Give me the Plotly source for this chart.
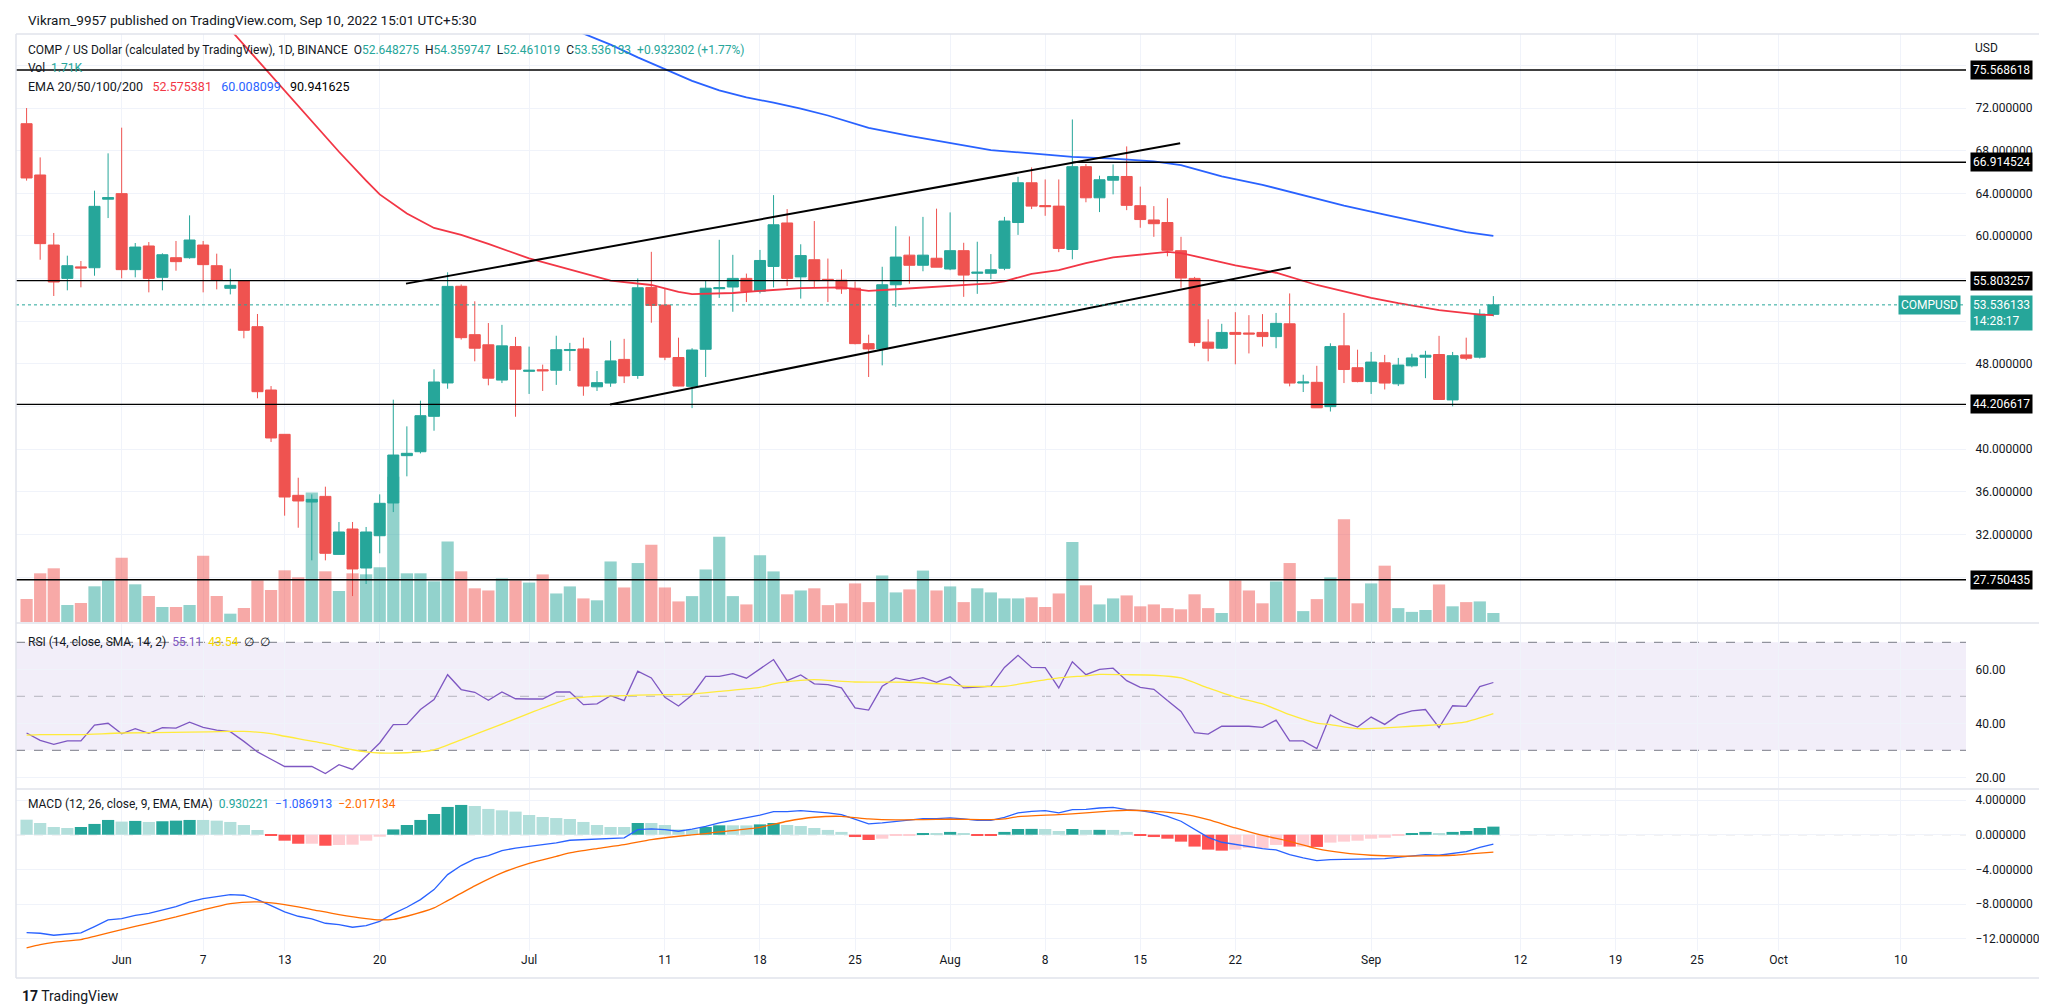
import pandas as pd
import plotly.graph_objects as go

# ---------------- data ----------------
dates = pd.date_range("2022-05-25", periods=109, freq="D")

open_ = [70.53, 65.72, 59.15, 56.02, 57.10, 57.02, 63.45, 63.97, 56.84, 59.06,
         56.12, 57.96, 57.96, 59.15, 57.21, 55.09, 55.80, 51.49, 45.55, 41.39,
         35.67, 35.04, 35.57, 30.13, 32.51, 28.85, 31.88, 34.95, 39.39, 39.76,
         43.08, 46.21, 55.28, 50.74, 49.79, 46.48, 49.62, 47.30, 47.45, 47.40,
         49.25, 49.40, 45.85, 46.20, 48.42, 46.91, 55.17, 53.52, 48.60, 45.89,
         49.37, 55.05, 55.21, 56.02, 54.82, 57.14, 61.22, 56.16, 57.77, 55.93,
         55.85, 55.10, 49.90, 49.40, 55.42, 58.20, 57.25, 57.91, 56.90, 58.62,
         56.50, 56.50, 56.97, 61.26, 64.99, 62.85, 62.80, 58.73, 66.50, 63.58,
         65.23, 65.58, 62.84, 61.50, 61.26, 58.62, 56.02, 50.04, 49.47, 50.95,
         50.90, 50.95, 50.56, 51.76, 46.20, 46.27, 43.99, 49.69, 47.64, 46.34,
         48.10, 46.13, 47.82, 48.63, 48.88, 44.62, 48.84, 48.63, 52.648275]
high = [72.00, 67.37, 60.28, 58.15, 57.65, 64.25, 67.75, 70.16, 59.34, 59.43,
        58.37, 59.53, 61.93, 59.53, 58.34, 56.93, 55.80, 52.68, 45.92, 41.39,
        37.32, 35.76, 36.48, 33.17, 33.17, 32.70, 35.76, 44.64, 42.14, 44.55,
        47.49, 56.59, 55.45, 53.87, 51.83, 51.66, 50.53, 49.62, 47.93, 50.64,
        49.97, 50.46, 47.33, 50.18, 50.35, 56.02, 58.51, 55.03, 50.46, 49.47,
        55.81, 59.64, 58.23, 56.47, 58.69, 63.83, 62.52, 59.22, 61.40, 57.88,
        56.86, 55.73, 50.74, 57.11, 60.91, 59.96, 61.79, 62.56, 62.21, 59.36,
        59.46, 58.30, 61.79, 65.55, 66.43, 65.30, 65.30, 70.93, 66.75, 65.65,
        66.71, 68.40, 64.63, 62.80, 63.54, 59.92, 56.16, 52.18, 51.76, 52.85,
        52.57, 52.67, 52.78, 54.61, 46.98, 47.82, 49.93, 52.78, 49.33, 49.12,
        48.84, 48.56, 48.95, 49.23, 50.63, 49.12, 50.46, 53.13, 54.359747]
low = [65.19, 57.77, 54.37, 54.90, 55.18, 56.27, 61.68, 56.02, 56.12, 54.71,
       54.90, 56.74, 57.87, 54.71, 54.99, 54.52, 50.40, 44.77, 40.67, 33.76,
       32.63, 29.57, 29.57, 30.13, 26.22, 27.35, 30.23, 34.10, 37.45, 39.60,
       41.73, 45.67, 50.28, 48.24, 45.99, 46.20, 43.04, 45.18, 45.46, 46.03,
       47.33, 45.01, 45.46, 45.85, 46.20, 46.60, 51.86, 48.35, 45.90, 43.85,
       46.77, 54.19, 52.89, 53.80, 54.61, 55.17, 55.31, 54.12, 55.17, 53.80,
       54.57, 49.83, 46.77, 47.86, 53.34, 55.52, 56.69, 57.07, 56.79, 54.29,
       54.57, 55.95, 56.79, 60.10, 62.52, 61.89, 58.48, 57.81, 63.16, 62.24,
       63.90, 62.42, 60.77, 59.92, 58.09, 55.14, 49.65, 48.24, 49.40, 47.96,
       48.98, 49.62, 49.47, 45.89, 45.36, 43.88, 43.53, 46.20, 46.27, 45.18,
       45.60, 45.92, 47.68, 46.66, 44.66, 44.02, 48.35, 48.50, 52.461019]
close = [65.44, 59.28, 55.68, 57.21, 57.00, 62.78, 63.60, 56.84, 58.96, 56.02,
         58.24, 57.59, 59.62, 57.31, 55.84, 55.37, 51.15, 45.39, 41.05, 35.51,
         35.14, 35.29, 30.23, 32.23, 28.76, 32.23, 34.92, 39.45, 39.61, 43.14,
         46.30, 55.27, 50.46, 49.47, 46.66, 49.69, 47.50, 47.40, 47.35, 49.33,
         49.35, 45.92, 46.24, 48.28, 46.87, 55.14, 53.48, 48.63, 45.92, 49.30,
         55.10, 55.15, 56.02, 54.82, 57.70, 61.05, 56.02, 58.16, 55.81, 55.85,
         55.03, 49.90, 49.40, 55.42, 58.02, 57.25, 58.20, 57.07, 58.62, 56.33,
         56.60, 56.83, 61.40, 64.99, 62.80, 62.75, 58.83, 66.50, 63.58, 65.27,
         65.58, 62.87, 61.54, 61.15, 58.65, 56.05, 50.00, 49.47, 50.95, 50.77,
         50.80, 50.56, 51.80, 46.20, 46.30, 43.88, 49.62, 47.47, 46.34, 48.17,
         46.20, 47.89, 48.56, 48.81, 44.66, 48.77, 48.53, 52.67, 53.536133]
volume_k = [4.37, 9.25, 10.2, 3.23, 3.61, 6.78, 7.92, 12.2, 7.16, 4.94,
            2.85, 2.85, 3.23, 12.6, 4.94, 1.58, 2.66, 7.92, 6.08, 9.82,
            8.49, 24.6, 9.63, 5.89, 9.25, 9.06, 10.4, 27.6, 9.25, 9.25,
            7.73, 15.3, 9.63, 6.40, 5.99, 8.27, 7.90, 7.49, 9.04, 5.42,
            6.76, 4.48, 4.12, 11.5, 6.56, 11.2, 14.7, 6.56, 3.91, 4.92,
            9.98, 16.2, 4.92, 3.34, 12.7, 9.61, 5.26, 5.99, 6.40, 3.21,
            3.55, 7.33, 3.78, 8.84, 5.62, 6.19, 9.77, 5.99, 6.76, 3.78,
            6.40, 5.62, 4.48, 4.48, 4.69, 2.85, 5.42, 15.2, 6.97, 3.34,
            4.48, 5.05, 2.98, 3.34, 2.64, 2.41, 5.26, 2.64, 1.71, 7.90,
            5.99, 3.55, 7.70, 11.2, 2.07, 4.35, 8.47, 19.5, 3.55, 7.33,
            10.7, 2.64, 1.92, 2.28, 7.13, 2.98, 3.78, 3.91, 1.71]

ema20_dates = ["2022-06-09", "2022-06-13", "2022-06-15", "2022-06-17", "2022-06-19", "2022-06-20",
               "2022-06-22", "2022-06-24", "2022-06-26", "2022-06-28", "2022-07-01", "2022-07-04",
               "2022-07-07", "2022-07-10", "2022-07-12", "2022-07-13", "2022-07-16", "2022-07-18",
               "2022-07-21", "2022-07-24", "2022-07-26", "2022-07-28", "2022-08-01", "2022-08-04",
               "2022-08-05", "2022-08-07", "2022-08-09", "2022-08-11", "2022-08-13", "2022-08-16",
               "2022-08-17", "2022-08-18", "2022-08-19", "2022-08-22", "2022-08-25", "2022-08-28",
               "2022-09-01", "2022-09-03", "2022-09-06", "2022-09-09", "2022-09-10"]
ema20_vals = [79.36, 73.6, 70.8, 67.9, 65.2, 63.9, 62.1, 60.75, 60.1, 59.25, 57.9, 56.85,
              55.8, 55.4, 54.75, 54.55, 54.65, 54.85, 55.1, 55.17, 54.85, 55.0, 55.35, 55.55,
              55.75, 56.45, 56.8, 57.45, 58.0, 58.4, 58.5, 58.4, 58.1, 57.25, 56.55, 55.4,
              54.2, 53.7, 53.05, 52.62, 52.575381]

ema50_dates = ["2022-07-04", "2022-07-05", "2022-07-07", "2022-07-09", "2022-07-11", "2022-07-13",
               "2022-07-15", "2022-07-17", "2022-07-19", "2022-07-21", "2022-07-23", "2022-07-25",
               "2022-07-26", "2022-07-29", "2022-08-01", "2022-08-04", "2022-08-07", "2022-08-10",
               "2022-08-13", "2022-08-16", "2022-08-18", "2022-08-21", "2022-08-24", "2022-08-27",
               "2022-08-30", "2022-09-02", "2022-09-05", "2022-09-08", "2022-09-10"]
ema50_vals = [79.5, 79.0, 77.95, 76.75, 75.65, 74.55, 73.65, 73.0, 72.5, 71.95, 71.3, 70.55,
              70.15, 69.4, 68.75, 68.05, 67.75, 67.42, 67.25, 67.0, 66.64, 65.6, 64.8, 63.8,
              62.85, 62.0, 61.15, 60.35, 60.008099]

rsi = [36.4, 33.7, 32.2, 33.5, 33.5, 39.3, 40.0, 36.1, 38.0, 36.3,
       38.4, 38.2, 40.4, 38.5, 37.5, 36.9, 33.3, 29.4, 26.7, 24.0,
       24.0, 24.0, 21.4, 24.7, 22.9, 27.8, 32.7, 39.5, 39.6, 45.1,
       48.8, 58.0, 52.5, 51.5, 48.5, 51.6, 49.1, 49.0, 49.0, 51.6,
       51.6, 46.9, 47.2, 50.2, 48.4, 59.3, 56.8, 49.6, 46.4, 50.5,
       57.4, 57.4, 58.4, 56.7, 60.1, 63.6, 55.8, 57.9, 54.6, 54.3,
       53.1, 45.7, 44.9, 53.7, 56.8, 55.8, 56.9, 55.2, 57.2, 53.1,
       53.4, 53.8, 60.7, 65.2, 60.7, 60.6, 53.1, 62.8, 58.0, 60.0,
       60.4, 55.8, 53.3, 52.6, 48.4, 44.4, 36.5, 36.0, 38.9, 38.9,
       38.9, 38.5, 41.2, 33.5, 33.5, 30.6, 43.1, 40.4, 38.6, 42.3,
       39.6, 43.1, 44.6, 45.1, 38.4, 46.5, 46.3, 53.6, 55.11]
rsi_sma_idx = [0, 1, 4, 7, 12, 15, 16, 18, 19, 22, 24, 25, 26, 28, 30, 32, 35, 37, 39, 40,
               42, 45, 47, 49, 51, 54, 55, 57, 58, 61, 65, 68, 69, 72, 74, 76, 78, 79, 81, 83,
               85, 87, 89, 91, 93, 95, 96, 98, 100, 102, 104, 105, 106, 108]
rsi_sma_vals = [35.6, 35.8, 35.8, 36.4, 36.7, 37.0, 37.0, 36.2, 35.2, 32.5, 30.2, 29.4, 29.0, 29.1,
                30.2, 33.9, 39.7, 43.7, 47.5, 49.1, 50.0, 50.4, 50.6, 50.8, 51.8, 53.3, 54.6, 55.9,
                56.2, 55.3, 55.2, 54.3, 53.8, 53.7, 55.3, 56.8, 57.6, 58.1, 58.0, 57.8, 56.8, 53.1,
                49.7, 47.2, 43.2, 40.1, 39.5, 38.0, 38.3, 38.9, 39.5, 39.9, 40.5, 43.54]

macd = [-11.28, -11.36, -11.59, -11.44, -11.32, -10.59, -9.82, -9.67, -9.29, -9.06,
        -8.67, -8.29, -7.75, -7.37, -7.13, -6.90, -6.98, -7.48, -8.17, -8.90,
        -9.40, -9.71, -10.21, -10.36, -10.67, -10.48, -9.98, -9.09, -8.36, -7.48,
        -6.33, -4.60, -3.56, -2.79, -2.41, -1.83, -1.56, -1.37, -1.18, -0.95,
        -0.64, -0.56, -0.56, -0.45, -0.37, 0.59, 0.67, 0.59, 0.40, 0.65,
        0.95, 1.36, 1.65, 1.95, 2.25, 2.66, 2.66, 2.78, 2.66, 2.51,
        2.32, 1.74, 1.24, 1.36, 1.55, 1.66, 1.86, 1.86, 1.93, 1.82,
        1.66, 1.66, 2.01, 2.51, 2.70, 2.78, 2.51, 2.89, 2.93, 3.08,
        3.16, 2.89, 2.78, 2.51, 2.12, 1.55, 0.59, -0.30, -0.87, -1.14,
        -1.41, -1.60, -1.76, -2.29, -2.68, -2.99, -2.87, -2.87, -2.87, -2.79,
        -2.75, -2.60, -2.45, -2.29, -2.37, -2.14, -1.95, -1.45, -1.086913]
macd_hist = [1.73, 1.35, 0.89, 0.77, 0.89, 1.24, 1.70, 1.51, 1.59, 1.47,
             1.55, 1.62, 1.70, 1.70, 1.62, 1.47, 1.12, 0.54, -0.15, -0.69,
             -1.04, -1.04, -1.27, -1.19, -1.15, -0.69, -0.23, 0.61, 1.12, 1.70,
             2.39, 3.20, 3.43, 3.31, 2.97, 2.81, 2.66, 2.27, 2.04, 1.92,
             1.81, 1.47, 1.12, 0.89, 0.89, 1.35, 1.35, 1.12, 0.61, 0.59,
             0.89, 1.08, 1.08, 1.07, 1.19, 1.35, 1.12, 1.00, 0.77, 0.55,
             0.32, -0.27, -0.61, -0.46, -0.15, -0.04, 0.15, 0.14, 0.32, 0.15,
             -0.04, -0.05, 0.32, 0.66, 0.67, 0.66, 0.43, 0.66, 0.55, 0.56,
             0.55, 0.32, -0.04, -0.27, -0.46, -0.80, -1.37, -1.72, -1.84, -1.72,
             -1.53, -1.53, -1.18, -1.37, -1.37, -1.41, -0.91, -0.80, -0.69, -0.46,
             -0.35, -0.12, 0.15, 0.32, 0.15, 0.32, 0.43, 0.77, 0.930221]
signal_idx = [0, 1, 2, 4, 5, 7, 9, 11, 13, 15, 17, 19, 21, 23, 25, 26, 27, 28, 30, 31,
              33, 35, 37, 39, 40, 42, 44, 46, 48, 50, 51, 54, 56, 58, 60, 62, 64, 66, 68, 71,
              72, 73, 76, 78, 80, 81, 83, 85, 87, 89, 91, 93, 95, 97, 99, 101, 103, 105, 106, 108]
signal_vals = [-13.05, -12.67, -12.40, -12.09, -11.71, -10.94, -10.21, -9.48, -8.67, -7.94,
               -7.75, -8.06, -8.63, -9.21, -9.67, -9.82, -9.75, -9.40, -8.44, -7.6,
               -5.9, -4.4, -3.3, -2.5, -2.1, -1.6, -1.14, -0.56, -0.18, 0.13,
               0.32, 0.85, 1.55, 2.01, 2.12, 1.82, 1.70, 1.74, 1.78, 1.74,
               1.82, 2.09, 2.32, 2.51, 2.75, 2.82, 2.70, 2.43, 1.74, 0.78,
               -0.07, -0.76, -1.60, -2.10, -2.37, -2.48, -2.45, -2.37, -2.25, -2.017134]

levels = [75.568618, 66.914524, 55.803257, 44.206617, 27.750435]
level_starts = [None, "2022-08-10", None, None, None]
upper_channel_x = ["2022-06-21 22:30", "2022-08-17 22:30"]
upper_channel_y = [55.53, 68.70]
lower_channel_x = ["2022-07-06 23:00", "2022-08-26 02:00"]
lower_channel_y = [44.19, 57.05]
last_price = 53.536133

x_tick_vals = ["2022-06-01", "2022-06-07", "2022-06-13", "2022-06-20", "2022-07-01", "2022-07-11",
               "2022-07-18", "2022-07-25", "2022-08-01", "2022-08-08", "2022-08-15", "2022-08-22",
               "2022-09-01", "2022-09-12", "2022-09-19", "2022-09-25", "2022-10-01", "2022-10-10"]
x_tick_text = ["Jun", "7", "13", "20", "Jul", "11", "18", "25", "Aug", "8", "15", "22",
               "Sep", "12", "19", "25", "Oct", "10"]
price_tick_vals = [28, 32, 36, 40, 44, 48, 52, 56, 60, 64, 68, 72, 76]
price_tick_shown = [32, 36, 40, 48, 60, 64, 68, 72]

# ---------------- style ----------------
UP = "#26a69a"
DN = "#ef5350"
UP_V = "rgba(38,166,154,0.5)"
DN_V = "rgba(239,83,80,0.5)"
GRID = "#f0f3fa"
FRAME = "#e0e3eb"
TXT = "#131722"
FONT = "Roboto, Arial, sans-serif"

W, H = 2047, 1006
L, R, T, B = 8, 1958, 26, 943


def px(X):
    return (X - L) / (R - L)


def py(Y):
    return (B - Y) / (B - T)


x_range = ["2022-05-24 05:17", "2022-10-14 19:12"]
MAIN_BOTTOM = 614
# price axis: 75.568618 sits at y=62 px, 10.66 px per unit
price_top = 75.568618 + (62 - T) / 10.66
price_bottom = 75.568618 - (MAIN_BOTTOM - 62) / 10.66
vol_top = (MAIN_BOTTOM - T) * 0.19

fig = go.Figure()

vol_colors = [UP_V if c >= o else DN_V for o, c in zip(open_, close)]
fig.add_trace(go.Bar(x=dates, y=volume_k, marker=dict(color=vol_colors, line=dict(width=0)),
                     xaxis="x", yaxis="y", hoverinfo="skip"))

fig.add_trace(go.Candlestick(
    x=dates, open=open_, high=high, low=low, close=close,
    increasing=dict(line=dict(color=UP, width=1), fillcolor=UP),
    decreasing=dict(line=dict(color=DN, width=1), fillcolor=DN),
    whiskerwidth=0, xaxis="x", yaxis="y2", hoverinfo="skip"))

fig.add_trace(go.Scatter(x=pd.to_datetime(ema20_dates), y=ema20_vals, mode="lines",
                         line=dict(color="#f23645", width=1.8), xaxis="x", yaxis="y2", hoverinfo="skip"))
fig.add_trace(go.Scatter(x=pd.to_datetime(ema50_dates), y=ema50_vals, mode="lines",
                         line=dict(color="#2962ff", width=1.8), xaxis="x", yaxis="y2", hoverinfo="skip"))
fig.add_trace(go.Scatter(x=pd.to_datetime(upper_channel_x), y=upper_channel_y, mode="lines",
                         line=dict(color="#000000", width=2), xaxis="x", yaxis="y2", hoverinfo="skip"))
fig.add_trace(go.Scatter(x=pd.to_datetime(lower_channel_x), y=lower_channel_y, mode="lines",
                         line=dict(color="#000000", width=2), xaxis="x", yaxis="y2", hoverinfo="skip"))

fig.add_trace(go.Scatter(x=dates, y=rsi, mode="lines", line=dict(color="#7e57c2", width=1.3),
                         xaxis="x2", yaxis="y3", hoverinfo="skip"))
fig.add_trace(go.Scatter(x=dates[rsi_sma_idx], y=rsi_sma_vals, mode="lines",
                         line=dict(color="#ffeb3b", width=1.3, shape="spline", smoothing=0.6),
                         xaxis="x2", yaxis="y3", hoverinfo="skip"))

hist_colors = []
for i, h in enumerate(macd_hist):
    prev = macd_hist[i - 1] if i > 0 else None
    if h >= 0:
        hist_colors.append("#26a69a" if (prev is not None and h > prev) else "#b2dfdb")
    else:
        hist_colors.append("#ff5252" if (prev is not None and h < prev) else "#ffcdd2")
fig.add_trace(go.Bar(x=dates, y=macd_hist, marker=dict(color=hist_colors, line=dict(width=0)),
                     xaxis="x3", yaxis="y4", hoverinfo="skip"))
fig.add_trace(go.Scatter(x=dates, y=macd, mode="lines", line=dict(color="#2962ff", width=1.3),
                         xaxis="x3", yaxis="y4", hoverinfo="skip"))
fig.add_trace(go.Scatter(x=dates[signal_idx], y=signal_vals, mode="lines",
                         line=dict(color="#ff6d00", width=1.3, shape="spline", smoothing=0.6),
                         xaxis="x3", yaxis="y4", hoverinfo="skip"))

tickfont = dict(family=FONT, size=12, color=TXT)
xcommon = dict(type="date", range=x_range, tickvals=x_tick_vals, ticktext=x_tick_text,
               showgrid=True, gridcolor=GRID, gridwidth=1, zeroline=False, showline=False,
               ticks="", tickfont=tickfont, fixedrange=True, automargin=False)
ycommon = dict(showgrid=True, gridcolor=GRID, zeroline=False, showline=False, side="right",
               ticks="outside", ticklen=6, tickcolor="rgba(0,0,0,0)", tickfont=tickfont,
               fixedrange=True, automargin=False)

main_dom = [py(MAIN_BOTTOM), 1]
rsi_dom = [py(780), py(616)]
macd_dom = [0, py(782)]

fig.update_layout(
    template="none",
    width=W, height=H,
    margin=dict(l=L, r=W - R, t=T, b=H - B, pad=0),
    paper_bgcolor="white", plot_bgcolor="white",
    showlegend=False, hovermode=False,
    bargap=0.1, boxgap=0.1, boxgroupgap=0.1,
    font=dict(family=FONT, color=TXT),
    xaxis=dict(**xcommon, anchor="y", domain=[0, 1], showticklabels=False,
               rangeslider=dict(visible=False)),
    xaxis2=dict(**xcommon, anchor="y3", domain=[0, 1], matches="x", showticklabels=False),
    xaxis3=dict(**xcommon, anchor="y4", domain=[0, 1], matches="x", showticklabels=True),
    yaxis=dict(domain=main_dom, anchor="x", range=[0, vol_top], visible=False, fixedrange=True,
               automargin=False),
    yaxis2=dict(**ycommon, overlaying="y", anchor="x", range=[price_bottom, price_top],
                tickvals=price_tick_vals,
                ticktext=[f"{v:.6f}" if v in price_tick_shown else "" for v in price_tick_vals]),
    yaxis3=dict(**ycommon, domain=rsi_dom, anchor="x2",
                range=[70 - (780 - 634.3) / 2.7, 70 + (634.3 - 616) / 2.7],
                tickvals=[20, 40, 60], ticktext=["20.00", "40.00", "60.00"]),
    yaxis4=dict(**ycommon, domain=macd_dom, anchor="x3",
                range=[(826.7 - 943) / 8.675, (826.7 - 782) / 8.675],
                tickvals=[4, 0, -4, -8, -12],
                ticktext=["4.000000", "0.000000", "\u22124.000000", "\u22128.000000", "\u221212.000000"]),
)

shapes = []
shapes.append(dict(type="rect", xref="paper", yref="y3", x0=0, x1=1, y0=30, y1=70,
                   fillcolor="rgba(126,87,194,0.1)", line=dict(width=0), layer="below"))
for lv, col in [(70, "#787b86"), (50, "rgba(120,123,134,0.5)"), (30, "#787b86")]:
    shapes.append(dict(type="line", xref="paper", yref="y3", x0=0, x1=1, y0=lv, y1=lv,
                       line=dict(color=col, width=1, dash="dash"), layer="below"))
shapes.append(dict(type="line", xref="paper", yref="y4", x0=0, x1=1, y0=0, y1=0,
                   line=dict(color="rgba(120,123,134,0.5)", width=1, dash="dash"), layer="below"))
for lv, st in zip(levels, level_starts):
    if st is None:
        shapes.append(dict(type="line", xref="paper", yref="y2", x0=0, x1=1, y0=lv, y1=lv,
                           line=dict(color="#000000", width=1.3), layer="above"))
    else:
        shapes.append(dict(type="line", xref="x", yref="y2", x0=st, x1=x_range[1], y0=lv, y1=lv,
                           line=dict(color="#000000", width=1.3), layer="above"))
shapes.append(dict(type="line", xref="paper", yref="y2", x0=0, x1=1, y0=last_price, y1=last_price,
                   line=dict(color=UP, width=1, dash="dot"), layer="above"))
right_edge = px(2037)
for yy in [py(T), py(615), py(781), py(970)]:
    shapes.append(dict(type="line", xref="paper", yref="paper", x0=0, x1=right_edge, y0=yy, y1=yy,
                       line=dict(color=FRAME, width=1.5), layer="above"))
for xx in [0, right_edge]:
    shapes.append(dict(type="line", xref="paper", yref="paper", x0=xx, x1=xx, y0=py(970), y1=py(T),
                       line=dict(color=FRAME, width=1.5), layer="above"))
fig.update_layout(shapes=shapes)

ann = []


def text_ann(X, Y, text, size=12, color=TXT, xanchor="left"):
    ann.append(dict(xref="paper", yref="paper", x=px(X), y=py(Y), text=text, showarrow=False,
                    xanchor=xanchor, yanchor="middle", font=dict(family=FONT, size=size, color=color)))


def span(t, c):
    return f'<span style="color:{c}">{t}</span>'


S = "&nbsp;&nbsp;"
text_ann(18, 12, "Vikram_9957 published on TradingView.com, Sep 10, 2022 15:01 UTC+5:30", size=13.5)
text_ann(18, 42, "COMP / US Dollar (calculated by TradingView), 1D, BINANCE" + S +
         "O" + span("52.648275", UP) + S + "H" + span("54.359747", UP) + S +
         "L" + span("52.461019", UP) + S + "C" + span("53.536133", UP) + S +
         span("+0.932302 (+1.77%)", UP))
text_ann(18, 60, "Vol" + S + span("1.71K", UP))
text_ann(18, 78, "EMA 20/50/100/200" + S + "&nbsp;" + span("52.575381", "#f23645") + S + "&nbsp;" +
         span("60.008099", "#2962ff") + S + "&nbsp;" + span("90.941625", "#000000"), size=12.5)
text_ann(18, 634, "RSI (14, close, SMA, 14, 2)" + S + span("55.11", "#7e57c2") + S +
         span("43.54", "#f5d800") + S + "\u2205" + S + "\u2205")
text_ann(18, 796, "MACD (12, 26, close, 9, EMA, EMA)" + S + span("0.930221", UP) + S +
         span("\u22121.086913", "#2962ff") + S + span("\u22122.017134", "#ff6d00"))
text_ann(1965, 40, "USD", size=12)
text_ann(12, 988, "<b>17</b> TradingView", size=14, color="#131722")

for lv in levels:
    ann.append(dict(xref="paper", yref="y2", x=px(1962), y=lv, text=f"{lv:.6f}", showarrow=False,
                    xanchor="left", yanchor="middle", bgcolor="#000000", borderpad=2,
                    font=dict(family=FONT, size=12, color="white")))
ann.append(dict(xref="paper", yref="y2", x=px(1962), y=last_price,
                text=f"{last_price:.6f}<br>14:28:17", showarrow=False, align="left",
                xanchor="left", yanchor="top", yshift=10, bgcolor=UP, borderpad=2,
                font=dict(family=FONT, size=12, color="white")))
ann.append(dict(xref="paper", yref="y2", x=px(1953), y=last_price, text="COMPUSD", showarrow=False,
                xanchor="right", yanchor="middle", bgcolor=UP, borderpad=2,
                font=dict(family=FONT, size=12, color="white")))
fig.update_layout(annotations=ann)

fig.write_html("out.html")
